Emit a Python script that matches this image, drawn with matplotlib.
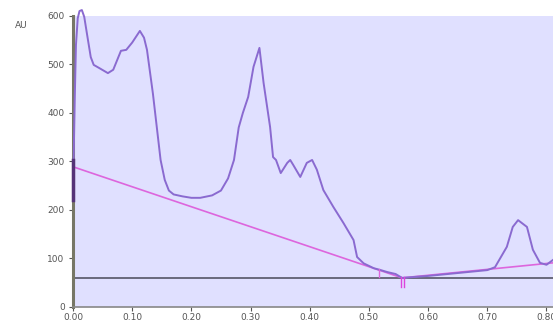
import matplotlib.pyplot as plt

# chromatogram trace (time in min, absorbance in AU)
trace_x = [0.000, 0.001, 0.003, 0.005, 0.008, 0.011, 0.015, 0.019, 0.024, 0.030, 0.035,
           0.045, 0.059, 0.068, 0.075, 0.081, 0.090, 0.100, 0.113, 0.120, 0.125, 0.135,
           0.148, 0.155, 0.162, 0.170, 0.185, 0.200, 0.215, 0.235, 0.250, 0.262, 0.272,
           0.280, 0.287, 0.296, 0.305, 0.315, 0.322, 0.333, 0.338, 0.343, 0.351, 0.362,
           0.367, 0.372, 0.384, 0.395, 0.404, 0.412, 0.423, 0.440, 0.457, 0.474, 0.480,
           0.491, 0.508, 0.520, 0.531, 0.545, 0.556, 0.600, 0.650, 0.700, 0.713, 0.733,
           0.743, 0.752, 0.767, 0.777, 0.789, 0.800, 0.811]
trace_y = [220, 300, 430, 540, 595, 610, 612, 598, 560, 515, 499,
           492, 482, 489, 510, 528, 530, 545, 569, 555, 530, 440,
           303, 262, 240, 232, 228, 225, 225, 230, 240, 265, 303,
           370, 400, 433, 495, 534, 462, 371, 309, 303, 276, 297,
           303, 293, 268, 297, 303, 283, 241, 206, 173, 138, 103,
           90, 80, 76, 72, 68, 60, 64, 70, 76, 82, 124,
           165, 179, 165, 118, 91, 87, 97]

# drawn baseline (two segments) and threshold level
base_x = [0.0, 0.556, 0.811]
base_y = [289, 60, 91]
threshold = 60

y_ticks = [0, 100, 200, 300, 400, 500, 600]
x_ticks = [0.0, 0.1, 0.2, 0.3, 0.4, 0.5, 0.6, 0.7, 0.8]

fig = plt.figure(figsize=(5.53, 3.24), dpi=100)
ax = fig.add_axes([0.132, 0.0525, 0.868, 0.8985])
ax.set_facecolor('#e0e0ff')

ax.axhline(threshold, color='#555566', lw=1.2, zorder=2)
ax.plot(base_x, base_y, color='#dd66dd', lw=1.2, zorder=3)
ax.plot(trace_x, trace_y, color='#8a6ad0', lw=1.4, zorder=4, clip_on=False)
# dark segment on the y-axis at injection
ax.plot([0.0, 0.0], [220, 303], color='#553377', lw=2.5, zorder=5, clip_on=False)
# integration marks
ax.plot([0.517, 0.517], [62, 78], color='#dd66dd', lw=1, zorder=5)
ax.plot([0.555, 0.555], [42, 62], color='#dd44dd', lw=1, zorder=5)
ax.plot([0.560, 0.560], [42, 62], color='#dd44dd', lw=1, zorder=5)

ax.set_xlim(0, 0.811)
ax.set_ylim(0, 600)
ax.set_xticks(x_ticks)
ax.set_xticklabels([f'{v:.2f}' for v in x_ticks])
ax.set_yticks(y_ticks)

for side in ['top', 'right']:
    ax.spines[side].set_visible(False)
ax.spines['left'].set_color('#777766')
ax.spines['left'].set_linewidth(2.2)
ax.spines['bottom'].set_color('#888888')
ax.spines['bottom'].set_linewidth(1.2)

ax.tick_params(axis='both', labelsize=6.5, colors='#555555', length=3)
ax.tick_params(axis='y', pad=3)
ax.tick_params(axis='x', pad=1)

fig.text(0.027, 0.915, 'AU', fontsize=6.5, color='#555555')

plt.savefig('out.png', dpi=100)
